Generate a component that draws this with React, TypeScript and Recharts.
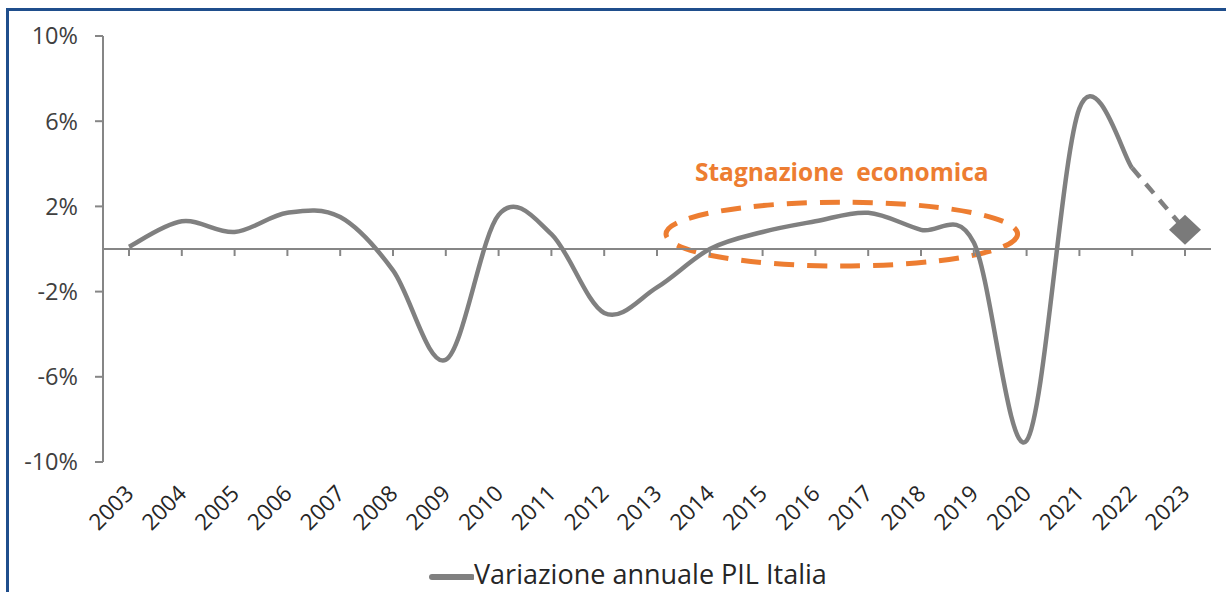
import React from "react";
import {
  LineChart,
  Line,
  XAxis,
  YAxis,
  ReferenceLine,
  ReferenceArea,
  ReferenceDot,
  Legend,
} from "recharts";

// ---- data ----
const years = [
  "2003", "2004", "2005", "2006", "2007", "2008", "2009", "2010", "2011", "2012",
  "2013", "2014", "2015", "2016", "2017", "2018", "2019", "2020", "2021", "2022", "2023",
];
const pil = [
  0.1, 1.3, 0.8, 1.7, 1.5, -1.0, -5.2, 1.6, 0.7, -3.0,
  -1.8, 0.0, 0.8, 1.3, 1.7, 0.9, 0.3, -9.0, 6.6, 3.8, null,
];
const forecast = [
  null, null, null, null, null, null, null, null, null, null,
  null, null, null, null, null, null, null, null, null, 3.8, 0.9,
];
const yTicks = [-10, -6, -2, 2, 6, 10];
const seriesName = "Variazione annuale PIL Italia";
const annotation = "Stagnazione economica";
const stagnationStart = "2013";
const stagnationEnd = "2020";
const stagnationLow = -0.8;
const stagnationHigh = 2.2;

const data = years.map((y, i) => ({ year: y, pil: pil[i], forecast: forecast[i] }));

const FONT = "'Open Sans', Lato, sans-serif";
const GRAY = "#808080";
const AXIS = "#868686";
const ORANGE = "#ED7D31";

// Excel-like smoothing (Catmull-Rom style bezier)
const K = 1 / 6;
function excelSmooth(context: any) {
  let pts: number[][] = [];
  return {
    areaStart() {},
    areaEnd() {},
    lineStart() {
      pts = [];
    },
    lineEnd() {
      const n = pts.length;
      if (!n) return;
      context.moveTo(pts[0][0], pts[0][1]);
      if (n === 1) {
        context.lineTo(pts[0][0], pts[0][1]);
        return;
      }
      for (let i = 0; i < n - 1; i++) {
        const p0 = pts[i - 1] || pts[i];
        const p1 = pts[i];
        const p2 = pts[i + 1];
        const p3 = pts[i + 2] || p2;
        context.bezierCurveTo(
          p1[0] + (p2[0] - p0[0]) * K,
          p1[1] + (p2[1] - p0[1]) * K,
          p2[0] - (p3[0] - p1[0]) * K,
          p2[1] - (p3[1] - p1[1]) * K,
          p2[0],
          p2[1]
        );
      }
    },
    point(x: number, y: number) {
      pts.push([+x, +y]);
    },
  };
}

const XTick = (props: any) => {
  const { x, y, payload } = props;
  const ax = x + 6;
  const ay = y + 33;
  return (
    <text
      x={ax}
      y={ay}
      textAnchor="end"
      transform={`rotate(-45, ${ax}, ${ay})`}
      fontFamily={FONT}
      fontSize={22.5}
      fill="#262626"
    >
      {payload.value}
    </text>
  );
};

const Diamond = (props: any) => {
  const { cx, cy, index } = props;
  if (index !== years.length - 1 || cx == null || cy == null) return <g key={`d${index}`} />;
  return (
    <polygon
      key={`d${index}`}
      points={`${cx},${cy - 15} ${cx + 16},${cy} ${cx},${cy + 15} ${cx - 16},${cy}`}
      fill="#7a7a7a"
    />
  );
};

const EllipseShape = (props: any) => {
  const { x, y, width, height } = props;
  return (
    <ellipse
      cx={x + width / 2}
      cy={y + height / 2}
      rx={width / 2 - 9}
      ry={height / 2}
      fill="none"
      stroke={ORANGE}
      strokeWidth={5}
      strokeDasharray="20 13"
    />
  );
};

const TickMark = (props: any) => {
  const { cx, cy } = props;
  return <line x1={cx} y1={cy} x2={cx} y2={cy + 7} stroke={AXIS} strokeWidth={2} />;
};

const renderLegend = (props: any) => {
  const item = (props.payload || []).find((p: any) => p.dataKey === "pil") || { value: seriesName };
  return (
    <div
      style={{
        display: "flex",
        alignItems: "center",
        fontFamily: FONT,
        fontSize: 27,
        color: "#262626",
        lineHeight: "27px",
        height: 27,
        whiteSpace: "nowrap",
      }}
    >
      <svg width={46} height={12} style={{ marginTop: 6 }}>
        <line x1={4} y1={6} x2={44} y2={6} stroke={GRAY} strokeWidth={6} strokeLinecap="round" />
      </svg>
      <span>{item.value}</span>
    </div>
  );
};

export default function App() {
  return (
    <div
      style={{
        position: "absolute",
        left: 6,
        top: 8,
        width: 1217,
        height: 581,
        borderTop: "3px solid #1F4E8C",
        borderLeft: "3px solid #1F4E8C",
        background: "#fff",
      }}
    >
      <LineChart
        width={1217}
        height={581}
        data={data}
        margin={{ top: 25, right: 15, left: 0, bottom: 0 }}
      >
        <XAxis
          dataKey="year"
          padding={{ left: 26, right: 26 }}
          axisLine={false}
          tickLine={false}
          tickSize={0}
          tickMargin={0}
          interval={0}
          height={130}
          tick={<XTick />}
        />
        <YAxis
          domain={[-10, 10]}
          ticks={yTicks}
          width={94}
          axisLine={{ stroke: AXIS, strokeWidth: 2 }}
          tickLine={{ stroke: AXIS, strokeWidth: 2 }}
          tickSize={8}
          tickMargin={17}
          tickFormatter={(v: number) => `${v}%`}
          tick={{ fontFamily: FONT, fontSize: 23.5, fill: "#404040" }}
          interval={0}
        />
        <ReferenceLine y={0} stroke={AXIS} strokeWidth={2} />
        {years.map((yr) => (
          <ReferenceDot key={yr} x={yr} y={0} r={0} shape={<TickMark />} />
        ))}
        <Line
          dataKey="pil"
          name={seriesName}
          type={excelSmooth as any}
          stroke={GRAY}
          strokeWidth={4.5}
          dot={false}
          activeDot={false}
          isAnimationActive={false}
        />
        <Line
          dataKey="forecast"
          name="forecast"
          type="linear"
          stroke={GRAY}
          strokeWidth={4.5}
          strokeDasharray="12 9"
          dot={<Diamond />}
          activeDot={false}
          legendType="none"
          isAnimationActive={false}
        />
        <ReferenceArea
          x1={stagnationStart}
          x2={stagnationEnd}
          y1={stagnationLow}
          y2={stagnationHigh}
          shape={<EllipseShape />}
          ifOverflow="visible"
          label={{
            value: annotation,
            position: "top",
            offset: 21,
            fill: ORANGE,
            fontSize: 24.5,
            fontWeight: 700,
            fontFamily: FONT,
            wordSpacing: 6,
          }}
        />
        <Legend
          layout="horizontal"
          verticalAlign="middle"
          align="center"
          content={renderLegend}
          wrapperStyle={{ left: 419, top: 549, width: "auto" }}
        />
      </LineChart>
    </div>
  );
}
